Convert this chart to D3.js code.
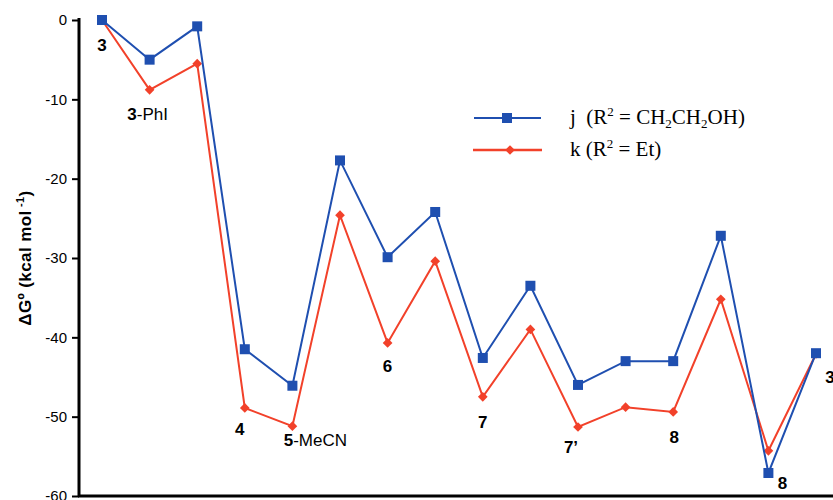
<!DOCTYPE html>
<html>
<head>
<meta charset="utf-8">
<script src="https://cdn.jsdelivr.net/npm/d3@7"></script>
<style>
  body { margin: 0; background: #fff; }
  svg { display: block; }
</style>
</head>
<body>
<script>
// reaction coordinate stages (16 points) and energies in kcal/mol
const stages = d3.range(16);
const seriesJ = [0, -5.0, -0.8, -41.5, -46.1, -17.7, -29.9, -24.2, -42.6, -33.5, -46.0, -43.0, -43.0, -27.2, -57.1, -42.0];
const seriesK = [0, -8.8, -5.5, -48.9, -51.2, -24.6, -40.7, -30.4, -47.5, -39.0, -51.3, -48.8, -49.4, -35.2, -54.3, -42.1];
const yTicks = [0, -10, -20, -30, -40, -50, -60];
const legendNames = ["j", "k"];
// species labels: stage index, bold part, normal part
const labelIdx = [0, 1, 3, 4, 6, 8, 10, 12, 14, 15];
const labelBold = ["3", "3", "4", "5", "6", "7", "7’", "8", "8", "3"];
const labelRest = ["", "-PhI", "", "-MeCN", "", "", "", "", "", ""];

const W = 833, H = 500;
const blue = "#1f4fb0", red = "#f2412a";

const svg = d3.select("body").append("svg")
    .attr("width", W)
    .attr("height", H);

let x = d3.scalePoint()
    .domain(stages)
    .range([102, 816]);
let y = d3.scaleLinear()
    .domain([-60, 0])
    .range([496, 20]);

// y axis
const yAxis = svg.append("g")
    .attr("transform", "translate(79,0)")
    .call(d3.axisLeft(y).tickValues(yTicks).tickSize(7).tickPadding(5).tickFormat(d3.format("d")));
yAxis.select(".domain").remove();
yAxis.selectAll(".tick line").attr("stroke", "#000").attr("stroke-width", 2);
yAxis.selectAll(".tick text")
    .attr("font-family", "Liberation Sans, Arial, sans-serif")
    .attr("font-size", 15)
    .attr("fill", "#000")
    .text(d => d === 0 ? "0" : "-" + Math.abs(d));

svg.append("line")
    .attr("x1", 79).attr("x2", 79)
    .attr("y1", y(0) - 2).attr("y2", y(-60))
    .attr("stroke", "#000").attr("stroke-width", 3);
svg.append("line")
    .attr("x1", 78).attr("x2", W)
    .attr("y1", y(-60)).attr("y2", y(-60))
    .attr("stroke", "#000").attr("stroke-width", 3);

// axis title
svg.append("text")
    .attr("transform", "translate(31,258) rotate(-90)")
    .attr("text-anchor", "middle")
    .attr("font-family", "Liberation Sans, Arial, sans-serif")
    .attr("font-weight", "bold")
    .attr("font-size", 17)
    .attr("letter-spacing", 0.4)
    .html("ΔGº (kcal mol<tspan dy='-7' font-size='11'> -1</tspan><tspan dy='7'>)</tspan>");

const line = d3.line()
    .x((d, i) => x(stages[i]))
    .y(d => y(d));

// red series (k)
svg.append("path")
    .datum(seriesK)
    .attr("fill", "none")
    .attr("stroke", red)
    .attr("stroke-width", 2)
    .attr("d", line);
svg.selectAll(".dk")
    .data(seriesK)
  .enter().append("path")
    .attr("class", "dk")
    .attr("transform", (d, i) => "translate(" + x(stages[i]) + "," + y(d) + ")")
    .attr("d", d3.symbol(d3.symbolDiamond2, 60))
    .attr("fill", red);

// blue series (j)
svg.append("path")
    .datum(seriesJ)
    .attr("fill", "none")
    .attr("stroke", blue)
    .attr("stroke-width", 2)
    .attr("d", line);
svg.selectAll(".sj")
    .data(seriesJ)
  .enter().append("rect")
    .attr("class", "sj")
    .attr("x", (d, i) => x(stages[i]) - 5)
    .attr("y", d => y(d) - 5)
    .attr("width", 10)
    .attr("height", 10)
    .attr("fill", blue);

// species labels
const labelOffset = [[0, 31], [-2, 30], [-5, 27], [23, 20], [0, 29], [0, 31], [-7, 26], [1, 31], [14, 16], [14, 30]];
const lbl = svg.selectAll(".lbl")
    .data(labelIdx)
  .enter().append("text")
    .attr("class", "lbl")
    .attr("x", (d, i) => x(stages[d]) + labelOffset[i][0])
    .attr("y", (d, i) => {
        const base = i >= 8 ? seriesJ[d] : seriesK[d];
        return y(base) + labelOffset[i][1];
    })
    .attr("text-anchor", "middle")
    .attr("font-family", "Liberation Sans, Arial, sans-serif")
    .attr("font-size", 17)
    .attr("fill", "#000");
lbl.append("tspan").attr("font-weight", "bold").text((d, i) => labelBold[i]);
lbl.append("tspan").text((d, i) => labelRest[i]);

// legend
const legend = svg.append("g");
const legY = [118, 150];
legend.append("line").attr("x1", 474).attr("x2", 541).attr("y1", legY[0]).attr("y2", legY[0])
    .attr("stroke", blue).attr("stroke-width", 2);
legend.append("rect").attr("x", 502).attr("y", legY[0] - 5).attr("width", 10).attr("height", 10).attr("fill", blue);
legend.append("line").attr("x1", 473).attr("x2", 542).attr("y1", legY[1]).attr("y2", legY[1])
    .attr("stroke", red).attr("stroke-width", 2.5);
legend.append("path").attr("transform", "translate(510," + legY[1] + ")")
    .attr("d", d3.symbol(d3.symbolDiamond2, 60)).attr("fill", red);

const legFont = "Liberation Serif, Times New Roman, serif";
legend.append("text")
    .attr("x", 570).attr("y", legY[0] + 6)
    .attr("font-family", legFont).attr("font-size", 21)
    .html(legendNames[0] + "&#160;&#160;(R<tspan dy='-8' font-size='13'>2</tspan><tspan dy='8'> = CH</tspan><tspan dy='4' font-size='13'>2</tspan><tspan dy='-4'>CH</tspan><tspan dy='4' font-size='13'>2</tspan><tspan dy='-4'>OH)</tspan>");
legend.append("text")
    .attr("x", 570).attr("y", legY[1] + 6)
    .attr("font-family", legFont).attr("font-size", 21)
    .html(legendNames[1] + " (R<tspan dy='-8' font-size='13'>2</tspan><tspan dy='8'> = Et)</tspan>");
</script>
</body>
</html>
